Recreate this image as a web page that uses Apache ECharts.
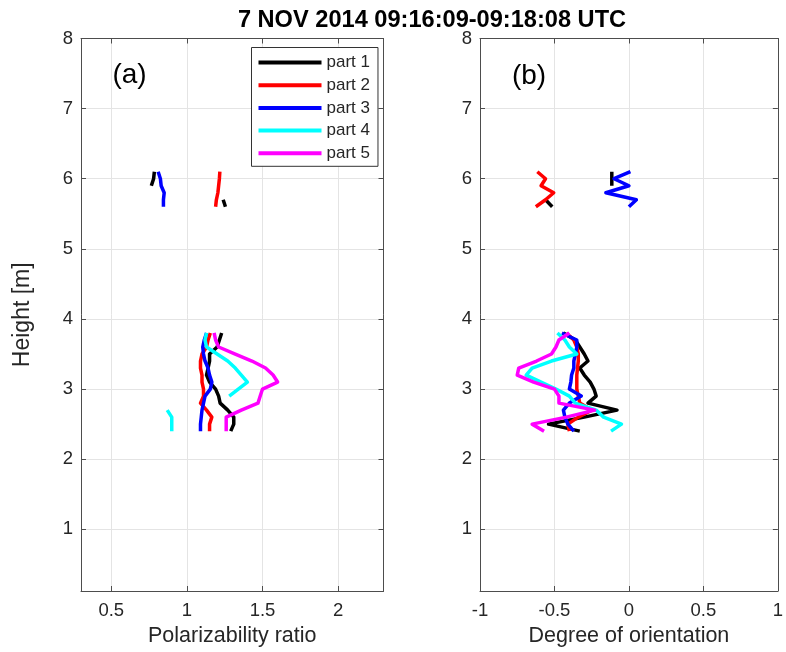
<!DOCTYPE html>
<html>
<head>
<meta charset="utf-8">
<script src="https://cdn.jsdelivr.net/npm/echarts@6/dist/echarts.min.js"></script>
<style>
html,body{margin:0;padding:0;background:#fff;}
#chart{width:786px;height:652px;}
</style>
</head>
<body>
<div id="chart"></div>
<script>
// ---- Data ----
const partNames = ['part 1', 'part 2', 'part 3', 'part 4', 'part 5'];
const heights = [3.8, 3.7, 3.6, 3.5, 3.4, 3.3, 3.2, 3.1, 3.0, 2.9, 2.8, 2.7, 2.6, 2.5, 2.4];
const upperHeights = [6.1, 6.0, 5.9, 5.8, 5.7, 5.6];

// (a) Polarizability ratio, lower layer
const ratioPart1 = [1.23, 1.215, 1.20, 1.15, 1.15, 1.14, 1.13, 1.15, 1.19, 1.21, 1.22, 1.27, 1.31, 1.31, 1.29];
const ratioPart2 = [1.155, 1.14, 1.13, 1.10, 1.09, 1.09, 1.10, 1.10, 1.11, 1.11, 1.09, 1.13, 1.165, 1.15, 1.15];
const ratioPart3 = [1.13, 1.115, 1.105, 1.11, 1.12, 1.14, 1.15, 1.165, 1.155, 1.12, 1.11, 1.10, 1.095, 1.09, 1.09];
const ratioPart4 = [1.13, 1.12, 1.13, 1.20, 1.27, 1.32, 1.36, 1.40, 1.34, 1.28, null, 0.87, 0.90, 0.90, 0.90];
const ratioPart5 = [1.18, 1.19, 1.21, 1.32, 1.43, 1.52, 1.57, 1.60, 1.50, 1.485, 1.47, 1.36, 1.26, 1.26, 1.26];
// (a) upper layer
const ratioUpPart1 = [0.785, 0.78, 0.765, null, 1.24, 1.255];
const ratioUpPart2 = [1.218, 1.215, 1.21, 1.205, 1.195, 1.19];
const ratioUpPart3 = [0.81, 0.825, 0.83, 0.85, 0.845, 0.845];

// (b) Degree of orientation, lower layer
const orientPart1 = [-0.44, -0.36, -0.33, -0.30, -0.275, -0.33, -0.30, -0.26, -0.235, -0.22, -0.275, -0.08, -0.30, -0.54, -0.33];
const orientPart2 = [-0.42, -0.37, -0.35, -0.34, -0.34, -0.345, -0.35, -0.35, -0.35, -0.34, -0.33, -0.25, -0.34, -0.41, -0.40];
const orientPart3 = [-0.45, -0.35, -0.35, -0.36, -0.37, -0.37, -0.385, -0.39, -0.40, -0.32, -0.40, -0.44, -0.43, -0.41, -0.37];
const orientPart4 = [-0.48, -0.43, -0.40, -0.35, -0.52, -0.65, -0.69, -0.59, -0.49, -0.40, -0.36, -0.22, -0.17, -0.05, -0.12];
const orientPart5 = [-0.40, -0.47, -0.49, -0.52, -0.62, -0.74, -0.75, -0.64, -0.50, -0.47, -0.47, -0.23, -0.42, -0.65, -0.57];
// (b) upper layer
const orientUpPart1 = [-0.115, -0.115, -0.115, null, -0.56, -0.515];
const orientUpPart2 = [-0.615, -0.56, -0.59, -0.505, -0.56, -0.625];
const orientUpPart3 = [0.01, -0.10, 0.0, -0.155, 0.05, 0.0];

const xTicksRatio = [0.5, 1, 1.5, 2];
const xTicksOrient = [-1, -0.5, 0, 0.5, 1];
const yTicks = [1, 2, 3, 4, 5, 6, 7, 8];

// ---- Styles ----
const colors = ['#000000', '#ff0000', '#0000ff', '#00ffff', '#ff00ff'];
const FONT = "'Liberation Sans', Arial, Helvetica, sans-serif";
const axisColor = '#4d4d4d';
const textColor = '#262626';
const gridColor = '#e4e4e4';

function runs(xs, hs) {
  const out = [];
  let cur = [];
  xs.forEach((v, i) => {
    if (v === null || v === undefined) {
      if (cur.length) out.push(cur);
      cur = [];
    } else {
      cur.push([v, hs[i]]);
    }
  });
  if (cur.length) out.push(cur);
  return out;
}

const panels = [
  { grid: 0, lower: [ratioPart1, ratioPart2, ratioPart3, ratioPart4, ratioPart5],
    upper: [ratioUpPart1, ratioUpPart2, ratioUpPart3, null, null] },
  { grid: 1, lower: [orientPart1, orientPart2, orientPart3, orientPart4, orientPart5],
    upper: [orientUpPart1, orientUpPart2, orientUpPart3, null, null] }
];

const series = [];
panels.forEach(p => {
  for (let k = 0; k < 5; k++) {
    const segs = [];
    if (p.upper[k]) segs.push(...runs(p.upper[k], upperHeights));
    segs.push(...runs(p.lower[k], heights));
    segs.forEach(seg => {
      series.push({
        name: partNames[k],
        type: 'line',
        xAxisIndex: p.grid * 2,
        yAxisIndex: p.grid * 2,
        data: seg,
        showSymbol: false,
        symbol: 'none',
        color: colors[k],
        itemStyle: { color: colors[k] },
        lineStyle: { color: colors[k], width: 3.5, join: 'round' },
        silent: true,
        animation: false,
        z: 2 + k
      });
    });
  }
});

function isIn(list, v) { return list.some(t => Math.abs(t - v) < 1e-9); }

const baseAxis = {
  axisLine: { show: true, onZero: false, lineStyle: { color: axisColor, width: 1 } },
  axisTick: { show: true, inside: true, length: 5, lineStyle: { color: axisColor } },
  axisLabel: { color: textColor, fontSize: 18.5, fontFamily: FONT }
};

function xAxisPair(gridIndex, min, max, ticks, name) {
  return [
    Object.assign({}, baseAxis, {
      type: 'value', gridIndex, position: 'bottom', min, max,
      minInterval: 0.5, maxInterval: 0.5,
      name, nameLocation: 'middle', nameGap: 34,
      nameTextStyle: { color: textColor, fontSize: 21.5, fontFamily: FONT },
      axisLabel: Object.assign({}, baseAxis.axisLabel, {
        margin: 10,
        formatter: v => isIn(ticks, v) ? String(Math.round(v * 10) / 10) : ''
      }),
      splitLine: { show: true, lineStyle: { color: gridColor, width: 1 } }
    }),
    Object.assign({}, baseAxis, {
      type: 'value', gridIndex, position: 'top', min, max,
      minInterval: 0.5, maxInterval: 0.5,
      axisLabel: { show: false },
      splitLine: { show: false }
    })
  ];
}

function yAxisPair(gridIndex, name) {
  return [
    Object.assign({}, baseAxis, {
      type: 'value', gridIndex, position: 'left', min: 0.12, max: 8,
      minInterval: 1, maxInterval: 1,
      name: name || '', nameLocation: 'middle', nameGap: 47,
      nameTextStyle: { color: textColor, fontSize: 23, fontFamily: FONT },
      axisLabel: Object.assign({}, baseAxis.axisLabel, {
        margin: 8,
        formatter: v => isIn(yTicks, v) ? String(Math.round(v)) : ''
      }),
      splitLine: { show: true, lineStyle: { color: gridColor, width: 1 } }
    }),
    Object.assign({}, baseAxis, {
      type: 'value', gridIndex, position: 'right', min: 0.12, max: 8,
      minInterval: 1, maxInterval: 1,
      axisLabel: { show: false },
      splitLine: { show: false }
    })
  ];
}

const option = {
  backgroundColor: '#ffffff',
  animation: false,
  grid: [
    { left: 81, top: 38.5, width: 302.5, height: 555, containLabel: false },
    { left: 480, top: 38.5, width: 303.5, height: 555, containLabel: false }
  ],
  xAxis: [
    ...xAxisPair(0, 0.3, 2.3, xTicksRatio, 'Polarizability ratio'),
    ...xAxisPair(1, -1, 1, xTicksOrient, 'Degree of orientation')
  ],
  yAxis: [
    ...yAxisPair(0, 'Height [m]'),
    ...yAxisPair(1, '')
  ],
  legend: {
    data: partNames,
    orient: 'vertical',
    left: 251.5,
    top: 47.5,
    padding: [5, 8, 3, 7],
    itemGap: 2.7,
    itemWidth: 63,
    itemHeight: 4,
    icon: 'rect',
    backgroundColor: '#ffffff',
    borderColor: '#333333',
    borderWidth: 1,
    selectedMode: false,
    textStyle: { color: textColor, fontSize: 17, fontFamily: FONT, lineHeight: 20 },
    z: 10
  },
  graphic: [
    { type: 'text', x: 432, y: 20, z: 20,
      style: { text: '7 NOV 2014 09:16:09-09:18:08 UTC', fill: '#000000',
        font: "bold 23.6px 'Liberation Sans', Arial, sans-serif",
        textAlign: 'center', textVerticalAlign: 'middle' } },
    { type: 'text', x: 129.5, y: 75, z: 20,
      style: { text: '(a)', fill: '#000000',
        font: "28px 'Liberation Sans', Arial, sans-serif",
        textAlign: 'center', textVerticalAlign: 'middle' } },
    { type: 'text', x: 529, y: 76.5, z: 20,
      style: { text: '(b)', fill: '#000000',
        font: "28px 'Liberation Sans', Arial, sans-serif",
        textAlign: 'center', textVerticalAlign: 'middle' } }
  ],
  series
};

const chart = echarts.init(document.getElementById('chart'), null, { renderer: 'canvas' });
chart.setOption(option);
</script>
</body>
</html>
